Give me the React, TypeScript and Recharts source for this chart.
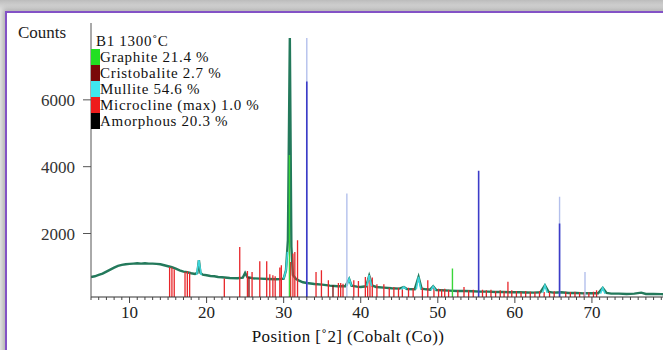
import React from "react";
import { ComposedChart, Line, XAxis, YAxis } from "recharts";

// measured pattern: [position °2θ, counts]
const observed: number[][] = [
  [5.0, 700], [5.5, 720], [6.0, 760], [6.5, 800], [7.0, 860], [7.5, 920],
  [8.0, 980], [8.5, 1030], [9.0, 1060], [9.5, 1080], [10.0, 1090], [10.5, 1100],
  [11.0, 1110], [11.5, 1100], [12.0, 1110], [12.5, 1100], [13.0, 1100], [13.5, 1090],
  [14.0, 1080], [14.5, 1050], [15.0, 1020], [15.5, 990], [16.0, 950], [16.5, 900],
  [17.0, 860], [17.5, 840], [18.0, 810], [18.5, 790], [18.8, 820], [19.0, 1200],
  [19.2, 820], [19.5, 770], [20.0, 750], [20.5, 730], [21.0, 720], [21.5, 700],
  [22.0, 690], [23.0, 670], [24.0, 660], [24.7, 680], [25.0, 820], [25.3, 690],
  [26.0, 660], [27.0, 650], [28.0, 640], [29.0, 630], [29.6, 640], [30.0, 650],
  [30.3, 900], [30.55, 1800], [30.8, 7850], [31.0, 1600], [31.2, 760], [31.6, 640],
  [32.0, 590], [32.5, 540], [33.0, 520], [34.0, 490], [35.0, 470], [36.0, 440],
  [37.0, 420], [38.0, 420], [38.5, 640], [38.8, 440], [39.5, 410], [40.0, 400],
  [40.7, 420], [41.1, 740], [41.5, 440], [42.0, 400], [43.0, 380], [44.0, 360],
  [45.0, 350], [45.6, 400], [46.0, 340], [47.0, 330], [47.5, 700], [47.9, 350],
  [48.5, 330], [49.0, 320], [49.4, 420], [49.8, 310], [50.5, 300], [51.5, 290],
  [52.5, 280], [53.5, 280], [54.5, 270], [55.5, 260], [56.5, 260], [57.5, 250],
  [58.5, 250], [59.5, 240], [60.5, 240], [61.5, 235], [62.5, 230], [63.3, 240],
  [63.9, 450], [64.4, 250], [65.0, 230], [66.0, 240], [67.0, 220], [68.0, 220],
  [69.0, 210], [70.0, 210], [70.8, 210], [71.4, 370], [71.9, 220], [72.5, 200],
  [73.5, 200], [74.5, 190], [75.5, 200], [76.4, 230], [77.0, 190], [78.0, 190],
  [79.0, 185], [80.0, 180],
];

// reference sticks: [position, height]
const microcline: number[][] = [
  [15.2, 1000], [15.5, 980], [15.8, 930], [17.2, 850], [17.5, 870], [17.8, 830],
  [22.3, 650], [24.3, 1600], [25.3, 880], [25.9, 850], [26.9, 1170], [27.8, 1170],
  [28.2, 780], [28.6, 750], [28.9, 720], [29.5, 980], [29.7, 1050], [30.9, 1150],
  [31.2, 1400], [31.45, 1450], [31.8, 1800], [34.2, 850], [34.9, 900], [35.8, 600],
  [37.1, 520], [37.4, 520], [37.7, 500], [39.1, 600], [39.7, 580], [40.6, 700],
  [40.9, 650], [41.2, 720], [41.5, 680], [42.1, 480], [43.0, 480], [43.7, 380],
  [44.3, 400], [44.9, 380], [45.4, 350], [46.2, 380], [46.8, 360], [48.0, 380],
  [48.7, 600], [49.5, 400], [50.1, 350], [50.5, 330], [50.9, 350], [51.4, 320],
  [52.6, 300], [53.4, 400], [54.0, 300], [54.6, 320], [55.8, 320], [56.3, 300],
  [56.9, 320], [57.5, 280], [58.1, 300], [58.6, 280], [59.1, 560], [59.6, 300],
  [60.2, 280], [60.8, 260], [61.4, 280], [62.0, 260], [62.6, 260], [63.2, 270],
  [63.8, 250], [64.5, 260], [65.1, 270], [66.6, 260], [67.2, 250], [67.8, 260],
  [68.4, 240], [69.0, 250], [69.6, 240], [70.2, 260], [70.6, 300],
];
const cristobalite: number[][] = [[25.5, 700], [36.4, 450]];
const graphite: number[][] = [[30.75, 4350], [51.9, 950]];
const paleBlue: number[][] = [[33.0, 7850], [38.2, 3200], [65.8, 3100], [69.1, 850]];
const deepBlue: number[][] = [[33.0, 6550], [55.3, 3880], [65.8, 2300]];

// mullite peaks: [position, top, base]
const mullite: number[][] = [
  [19.0, 1200, 760], [38.5, 650, 430], [41.1, 750, 430], [45.6, 400, 330],
  [47.5, 700, 330], [49.4, 420, 300], [63.9, 450, 230], [71.4, 370, 200],
];
const mulliteFlank: number[][] = [[30.0, 650], [30.3, 900], [30.5, 1450]];

const phaseNames = ["Graphite", "Cristobalite", "Mullite", "Microcline (max)", "Amorphous"];
const phasePct = ["21.4", "2.7", "54.6", "1.0", "20.3"];
const phaseColors = ["#22e022", "#7a0a0a", "#3fe6ee", "#ee1c1c", "#000000"];

const yTicks = [2000, 4000, 6000];
const xMinor = Array.from({ length: 75 }, (_, i) => i + 5);

const Y_MIN = 100;
const Y_MAX = 8300;
const FONT = "'Liberation Serif', 'DejaVu Serif', serif";

const toPoints = (list: number[][]) => list.map(([x, y]) => ({ x, y }));
const toSticks = (list: number[][]) =>
  list.flatMap(([x, h]) => [
    { x, y: Y_MIN },
    { x, y: h },
    { x, y: null },
  ]);
const toPeaks = (list: number[][]) =>
  list.flatMap(([x, top, base]) => [
    { x: x - 0.3, y: base },
    { x, y: top },
    { x: x + 0.3, y: base },
    { x: x + 0.3, y: null },
  ]);

const PosTick = (props: any) => {
  const { x, y, payload } = props;
  const major = payload.value % 10 === 0;
  return (
    <g>
      <line x1={x} x2={x} y1={y} y2={y + (major ? 6 : 3)} stroke="#444" strokeWidth={1} />
      {major && (
        <text x={x} y={y + 21} textAnchor="middle" fontSize={17} fill="#222" fontFamily={FONT}>
          {payload.value}
        </text>
      )}
    </g>
  );
};

export default function App() {
  const lineProps = { dataKey: "y", dot: false, activeDot: false, isAnimationActive: false } as const;
  return (
    <div
      style={{
        position: "fixed",
        left: 0,
        top: 0,
        width: 663,
        height: 350,
        overflow: "hidden",
        background: "linear-gradient(#bcbcbc, #e6e6e6 11px)",
        fontFamily: FONT,
      }}
    >
      <div
        style={{
          position: "absolute",
          left: 5,
          top: 11,
          width: 720,
          height: 400,
          background: "#fff",
          borderLeft: "2px solid #8352c6",
          borderTop: "2px solid #8352c6",
          boxShadow: "-2px -2px 5px rgba(0,0,0,0.25)",
        }}
      />
      <div style={{ position: "absolute", left: 18, top: 23, fontSize: 17, color: "#222" }}>Counts</div>

      <div style={{ position: "absolute", left: 0, top: 0 }}>
        <ComposedChart width={680} height={350} margin={{ top: 23, right: 11, bottom: 23, left: 0 }}>
          <XAxis
            type="number"
            dataKey="x"
            domain={[5, 80]}
            allowDataOverflow
            ticks={xMinor}
            interval={0}
            tickSize={0}
            tickMargin={0}
            tick={<PosTick />}
            height={30}
            axisLine={{ stroke: "#333" }}
          />
          {/* plain frame line along the top of the plot */}
          <XAxis
            xAxisId="top"
            orientation="top"
            type="number"
            dataKey="x"
            domain={[5, 80]}
            allowDataOverflow
            height={0}
            tick={false}
            tickLine={false}
            axisLine={{ stroke: "#a8a8a8", strokeWidth: 1.5 }}
          />
          <YAxis
            type="number"
            domain={[Y_MIN, Y_MAX]}
            allowDataOverflow
            ticks={yTicks}
            width={91}
            tickSize={8}
            tickMargin={8}
            tick={{ fontSize: 17, fill: "#333", fontFamily: FONT }}
            tickLine={{ stroke: "#555" }}
            axisLine={{ stroke: "#555" }}
          />

          <Line {...lineProps} data={toPoints(observed)} stroke="#23795b" strokeWidth={2.4} />
          <Line {...lineProps} data={toSticks(microcline)} stroke="#e8262a" strokeWidth={1.3} />
          <Line {...lineProps} data={toSticks(cristobalite)} stroke="#7a0a0a" strokeWidth={1.3} />
          <Line {...lineProps} data={toPeaks(mullite)} stroke="#3fd6dc" strokeWidth={1.6} />
          <Line {...lineProps} data={toPoints(mulliteFlank)} stroke="#3fd6dc" strokeWidth={1.6} />
          <Line {...lineProps} data={toSticks(graphite)} stroke="#3ad63a" strokeWidth={1.4} />
          <Line {...lineProps} data={toSticks(paleBlue)} stroke="#b4c0ec" strokeWidth={1.4} />
          <Line {...lineProps} data={toSticks(deepBlue)} stroke="#3c3cc8" strokeWidth={1.6} />
        </ComposedChart>
      </div>

      <div
        style={{
          position: "absolute",
          left: 91,
          top: 33,
          fontSize: 15,
          lineHeight: "16px",
          letterSpacing: 0.7,
          color: "#111",
        }}
      >
        <div style={{ paddingLeft: 5 }}>B1 1300˚C</div>
        {phaseNames.map((name, i) => (
          <div key={name} style={{ display: "flex", alignItems: "center", height: 16 }}>
            <span style={{ width: 9, height: 16, background: phaseColors[i], display: "inline-block" }} />
            <span>{`${name} ${phasePct[i]} %`}</span>
          </div>
        ))}
      </div>

      <div
        style={{
          position: "absolute",
          left: 0,
          width: 696,
          top: 327,
          textAlign: "center",
          fontSize: 17,
          letterSpacing: 0.4,
          color: "#111",
        }}
      >
        Position [˚2] (Cobalt (Co))
      </div>
    </div>
  );
}
